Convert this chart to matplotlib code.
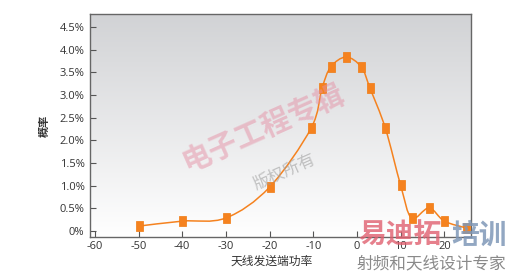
import numpy as np
import matplotlib.pyplot as plt
from matplotlib.path import Path
from matplotlib.patches import PathPatch

plt.rcParams['font.family'] = ['Noto Sans CJK SC', 'DejaVu Sans']

# power (x) and probability in % (y)
power = [-50, -40, -30, -20, -10.5, -8, -6, -2.5, 1, 3, 6.5, 10, 12.5, 16.5, 20, 25]
prob = [0.11, 0.22, 0.29, 0.97, 2.27, 3.15, 3.62, 3.84, 3.62, 3.15, 2.27, 1.01,
        0.29, 0.51, 0.22, 0.07]
xticks = [-60, -50, -40, -30, -20, -10, 0, 10, 20]
yticks = [0, 0.5, 1.0, 1.5, 2.0, 2.5, 3.0, 3.5, 4.0, 4.5]
ylabels = ['0%', '0.5%', '1.0%', '1.5%', '2.0%', '2.5%', '3.0%', '3.5%', '4.0%', '4.5%']

orange = '#f5821f'
# slightly tall square marker, like the excel one
tall_sq = [(-0.7, -1), (0.7, -1), (0.7, 1), (-0.7, 1), (-0.7, -1)]


def smooth_path(xs, ys, k=1/6):
    # excel-like smoothed line: catmull-rom turned into cubic bezier segments
    pts = np.column_stack([xs, ys])
    n = len(pts)
    verts = [pts[0]]
    codes = [Path.MOVETO]
    for i in range(n - 1):
        p0 = pts[max(i - 1, 0)]
        p1 = pts[i]
        p2 = pts[i + 1]
        p3 = pts[min(i + 2, n - 1)]
        c1 = p1 + (p2 - p0) * k
        c2 = p2 - (p3 - p1) * k
        verts += [c1, c2, p2]
        codes += [Path.CURVE4] * 3
    return Path(verts, codes)


fig = plt.figure(figsize=(5.12, 2.74), dpi=100)
ax = fig.add_axes([0.1758, 0.135, 0.7441, 0.814])

# grey-to-white background gradient
grad = np.linspace(1, 0, 256).reshape(-1, 1)
top = np.array([0.82, 0.825, 0.835])
bot = np.array([1.0, 1.0, 1.0])
img = bot + (top - bot) * grad[..., None]
ax.imshow(img, extent=[0, 1, 0, 1], transform=ax.transAxes, aspect='auto', zorder=0)

ax.add_patch(PathPatch(smooth_path(power, prob), fill=False, ec=orange, lw=1.1, zorder=3))
ax.plot(power, prob, ls='none', marker=tall_sq, ms=7.2, color=orange, mec='#f07a10',
        mew=0.5, zorder=4)

ax.set_xlim(-61.1, 26.1)
ax.set_ylim(-0.13, 4.79)
ax.set_xticks(xticks)
ax.set_xticklabels([str(v) for v in xticks])
ax.set_yticks(yticks)
ax.set_yticklabels(ylabels)
ax.tick_params(direction='in', length=4.5, width=0.8, color='#555555',
               labelsize=8, labelcolor='#333333')
ax.tick_params(axis='x', pad=3)
ax.tick_params(axis='y', pad=4)
for lab in ax.get_xticklabels() + ax.get_yticklabels():
    lab.set_family(['Open Sans', 'DejaVu Sans'])
for s in ax.spines.values():
    s.set_color('#666666')
    s.set_linewidth(1.0)

ax.set_ylabel('概率', fontsize=8, fontweight='bold', color='#333333', labelpad=6)
ax.set_xlabel('天线发送端功率', fontsize=8.5, color='#333333')
ax.xaxis.set_label_coords(0.478, -0.078)

# watermarks
fig.text(0.515, 0.53, '电子工程专辑', fontsize=21, fontweight='bold', color='#e590a5',
         alpha=0.5, rotation=24, ha='center', va='center')
fig.text(0.556, 0.37, '版权所有', fontsize=12, color='#a0a0a0', alpha=0.6,
         rotation=24, ha='center', va='center')
fig.text(0.700, 0.139, '易迪拓', fontsize=20, fontweight='bold', color='#e06070',
         alpha=0.8, ha='left', va='center')
fig.text(0.882, 0.139, '培训', fontsize=20, fontweight='bold', color='#7f98b8',
         alpha=0.85, ha='left', va='center')
fig.text(0.697, 0.036, '射频和天线设计专家', fontsize=12, color='#8a8a8a',
         ha='left', va='center')

fig.savefig('out.png', dpi=100, facecolor='white')
